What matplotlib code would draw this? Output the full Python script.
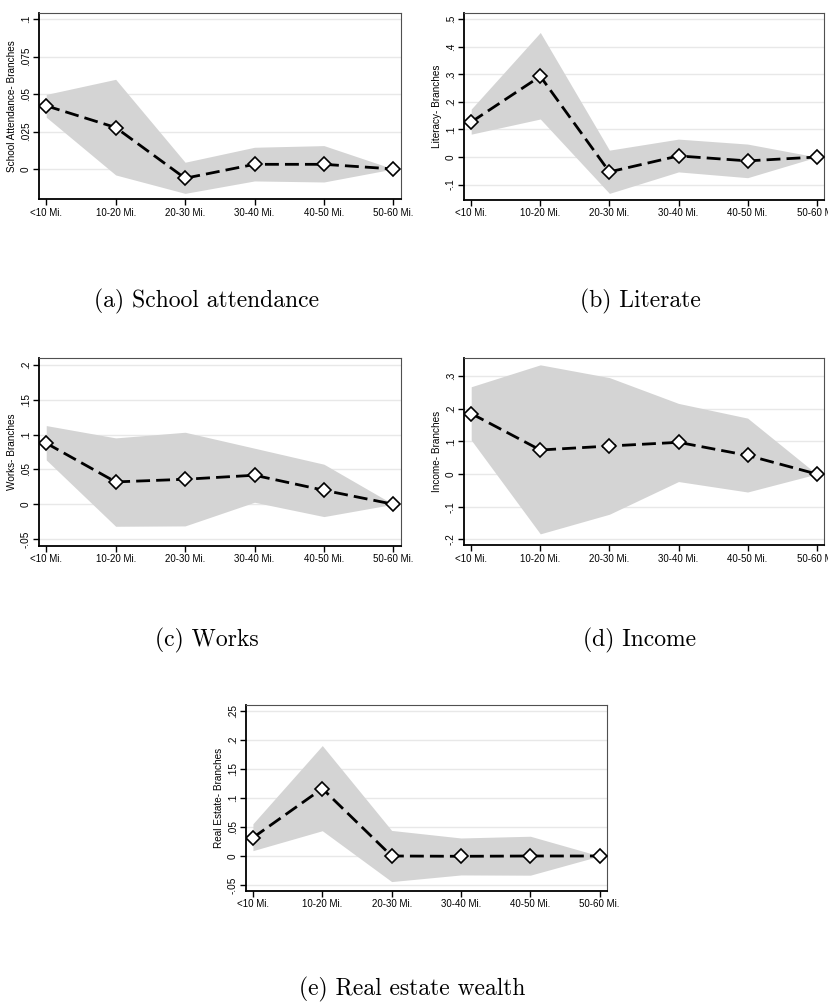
import matplotlib
matplotlib.use('Agg')
import matplotlib.pyplot as plt
import numpy as np

# distance bins
labels = ['<10 Mi.', '10-20 Mi.', '20-30 Mi.', '30-40 Mi.', '40-50 Mi.', '50-60 Mi.']

# point estimates and 95% bands, one set per outcome
school_coef = [0.0422, 0.0277, -0.0062, 0.0031, 0.0031, 0.0]
school_hi = [0.0498, 0.0599, 0.0045, 0.0145, 0.0156, 0.0]
school_lo = [0.0346, -0.0040, -0.0163, -0.0080, -0.0087, 0.0]

literacy_coef = [0.127, 0.293, -0.054, 0.004, -0.014, 0.0]
literacy_hi = [0.174, 0.452, 0.025, 0.065, 0.047, 0.0]
literacy_lo = [0.083, 0.138, -0.132, -0.054, -0.075, 0.0]

works_coef = [0.0877, 0.0321, 0.0359, 0.0417, 0.0201, 0.0]
works_hi = [0.113, 0.0953, 0.1034, 0.0805, 0.0575, 0.0]
works_lo = [0.0637, -0.0316, -0.0311, 0.0029, -0.0177, 0.0]

income_coef = [0.185, 0.0735, 0.0857, 0.097, 0.057, 0.0]
income_hi = [0.267, 0.334, 0.295, 0.216, 0.171, 0.0]
income_lo = [0.104, -0.183, -0.123, -0.023, -0.055, 0.0]

estate_coef = [0.0315, 0.116, 0.0, -0.0005, 0.0, 0.0]
estate_hi = [0.0555, 0.19, 0.044, 0.031, 0.034, 0.0]
estate_lo = [0.0092, 0.0435, -0.044, -0.0326, -0.033, 0.0]

W, H = 829, 1005
fig = plt.figure(figsize=(W / 100, H / 100), dpi=100)
plt.rcParams['font.family'] = ['Liberation Sans', 'DejaVu Sans']

def px_axes(left, top, right, bottom):
    return fig.add_axes([left / W, 1 - bottom / H, (right - left) / W, (bottom - top) / H])

def coef_panel(ax, coef, lo, hi, yticks, yticklabels, ylim, ylabel):
    x = np.arange(1, len(labels) + 1)
    for t in yticks:
        ax.axhline(t, color='#e8e8e8', lw=1.0, zorder=0)
    ax.fill_between(x, lo, hi, color='#d4d4d4', lw=0, zorder=1)
    ax.plot(x, coef, color='black', lw=2.0, dashes=(5, 2.2), zorder=2)
    ax.plot(x, coef, ls='none', marker='D', ms=7, mfc='white', mec='black', mew=1.2, zorder=3)
    ax.set_xlim(0.9, 6.11)
    ax.set_ylim(*ylim)
    ax.set_xticks(x)
    ax.set_xticklabels(labels, fontsize=7.0)
    ax.set_yticks(yticks)
    ax.set_yticklabels(yticklabels, fontsize=7.2, rotation=90, va='center')
    ax.set_ylabel(ylabel, fontsize=7.2, labelpad=2.5)
    ax.tick_params(axis='both', direction='out', length=4, width=1.0, pad=2)
    for s in ['left', 'bottom']:
        ax.spines[s].set_linewidth(1.3)
        ax.spines[s].set_color('black')
    for s in ['top', 'right']:
        ax.spines[s].set_linewidth(0.8)
        ax.spines[s].set_color('#505050')

ax = px_axes(39.3, 13.3, 401, 199.5)
coef_panel(ax, school_coef, school_lo, school_hi,
           [0, 0.025, 0.05, 0.075, 0.1], ['0', '.025', '.05', '.075', '.1'],
           (-0.0204, 0.104), 'School Attendance- Branches')

ax = px_axes(464.3, 13.3, 824.3, 200)
coef_panel(ax, literacy_coef, literacy_lo, literacy_hi,
           [-0.1, 0, 0.1, 0.2, 0.3, 0.4, 0.5], ['-.1', '0', '.1', '.2', '.3', '.4', '.5'],
           (-0.156, 0.5217), 'Literacy- Branches')

ax = px_axes(39.3, 358.3, 401, 545.7)
coef_panel(ax, works_coef, works_lo, works_hi,
           [-0.05, 0, 0.05, 0.1, 0.15, 0.2], ['-.05', '0', '.05', '.1', '.15', '.2'],
           (-0.0595, 0.2096), 'Works- Branches')

ax = px_axes(464.3, 358.3, 824.3, 545.3)
coef_panel(ax, income_coef, income_lo, income_hi,
           [-0.2, -0.1, 0, 0.1, 0.2, 0.3], ['-.2', '-.1', '0', '.1', '.2', '.3'],
           (-0.218, 0.354), 'Income- Branches')

ax = px_axes(246, 705, 607.3, 890.7)
coef_panel(ax, estate_coef, estate_lo, estate_hi,
           [-0.05, 0, 0.05, 0.1, 0.15, 0.2, 0.25], ['-.05', '0', '.05', '.1', '.15', '.2', '.25'],
           (-0.0597, 0.2598), 'Real Estate- Branches')

# subfigure captions
cap = dict(fontsize=17, family='cmr10', ha='center', va='center')
fig.text(207 / W, 1 - 301 / H, '(a) School attendance', **cap)
fig.text(640 / W, 1 - 301 / H, '(b) Literate', **cap)
fig.text(207 / W, 1 - 640 / H, '(c) Works', **cap)
fig.text(640 / W, 1 - 640 / H, '(d) Income', **cap)
fig.text(412 / W, 1 - 989 / H, '(e) Real estate wealth', **cap)

fig.savefig('out.png', dpi=100)
